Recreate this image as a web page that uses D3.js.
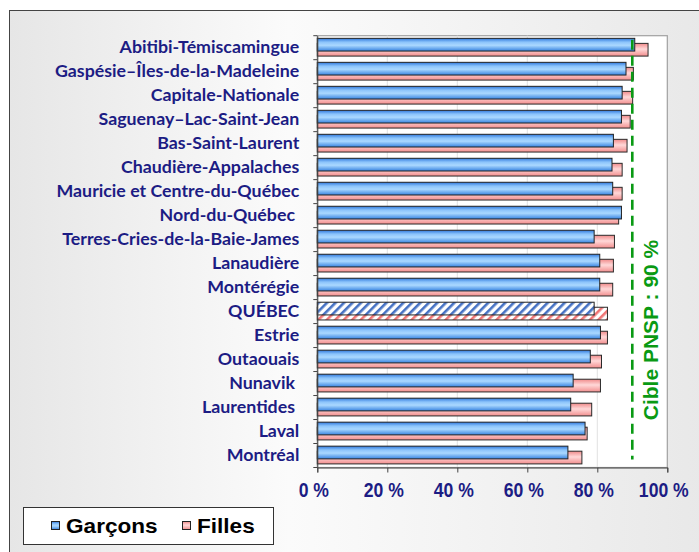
<!DOCTYPE html>
<html>
<head>
<meta charset="utf-8">
<script src="https://cdn.jsdelivr.net/npm/d3@7"></script>
<style>
  html, body { margin: 0; padding: 0; background: #fff; }
  svg { display: block; }
</style>
</head>
<body>
<div id="chart"></div>
<script>
// Régions, du haut vers le bas
const regions = [
    'Abitibi-Témiscamingue', 'Gaspésie–Îles-de-la-Madeleine', 'Capitale-Nationale',
    'Saguenay–Lac-Saint-Jean', 'Bas-Saint-Laurent', 'Chaudière-Appalaches',
    'Mauricie et Centre-du-Québec', 'Nord-du-Québec ', 'Terres-Cries-de-la-Baie-James',
    'Lanaudière', 'Montérégie', 'QUÉBEC', 'Estrie', 'Outaouais', 'Nunavik ',
    'Laurentides ', 'Laval', 'Montréal'
];
const garcons = [90.7, 88.2, 87.1, 86.9, 84.6, 84.2, 84.4, 86.9, 79.1, 80.7, 80.7, 79.1, 80.9, 78.0, 73.1, 72.4, 76.5, 71.6];
const filles  = [94.5, 90.3, 90.1, 89.4, 88.5, 87.1, 87.1, 86.1, 84.9, 84.6, 84.4, 82.9, 82.9, 81.2, 80.9, 78.4, 77.1, 75.6];
const xTicks = [0, 20, 40, 60, 80, 100];
const cible = 90;
const cibleLabel = 'Cible PNSP : 90 %';
const legendItems = ['Garçons', 'Filles'];

const W = 699, H = 552;
const margin = { top: 35.7, right: 31.7, bottom: 84.5, left: 317.3 };
const navy = '#1c1c84';
const green = '#0a9a14';

const svg = d3.select('#chart').append('svg')
    .attr('width', W).attr('height', H);

const defs = svg.append('defs');

// fond gris dégradé
const bg = defs.append('linearGradient').attr('id', 'bg')
    .attr('x1', 0).attr('x2', 1).attr('y1', 0).attr('y2', 0);
bg.append('stop').attr('offset', '0%').attr('stop-color', '#e6e6e6');
bg.append('stop').attr('offset', '40%').attr('stop-color', '#fbfbfb');
bg.append('stop').attr('offset', '100%').attr('stop-color', '#e8e8e8');

function vGrad(id, stops) {
    const g = defs.append('linearGradient').attr('id', id)
        .attr('x1', 0).attr('x2', 0).attr('y1', 0).attr('y2', 1);
    stops.forEach(([o, c]) => g.append('stop').attr('offset', o).attr('stop-color', c));
}
vGrad('gBlue', [['0%', '#2f78dc'], ['30%', '#8cc4fb'], ['55%', '#aad8ff'], ['100%', '#3783e0']]);
vGrad('gPink', [['0%', '#f08a8a'], ['45%', '#ffd8d8'], ['100%', '#f28e8e']]);

function hatch(id, color) {
    const p = defs.append('pattern').attr('id', id)
        .attr('patternUnits', 'userSpaceOnUse')
        .attr('width', 6).attr('height', 6)
        .attr('patternTransform', 'rotate(45)');
    p.append('rect').attr('width', 6).attr('height', 6).attr('fill', '#fff');
    p.append('rect').attr('width', 2.6).attr('height', 6).attr('fill', color);
}
hatch('hBlue', '#4672c4');
hatch('hPink', '#f07474');

// cadre extérieur
svg.append('rect')
    .attr('x', 9.5).attr('y', 10.5).attr('width', W).attr('height', H)
    .attr('fill', 'url(#bg)').attr('stroke', '#444').attr('stroke-width', 1);

const x = d3.scaleLinear().domain([0, 100]).range([margin.left, W - margin.right]);
const y = d3.scaleBand().domain(regions).range([margin.top, H - margin.bottom]).padding(0);
const bw = y.bandwidth();

// zone de tracé
svg.append('rect')
    .attr('x', x(0)).attr('y', margin.top)
    .attr('width', x(100) - x(0)).attr('height', H - margin.bottom - margin.top)
    .attr('fill', '#fff').attr('stroke', '#a0a0a0').attr('stroke-width', 1.2);

svg.append('g').selectAll('line').data(xTicks.slice(1, -1)).join('line')
    .attr('x1', d => x(d)).attr('x2', d => x(d))
    .attr('y1', margin.top).attr('y2', H - margin.bottom)
    .attr('stroke', '#e2e2e2').attr('stroke-width', 1);

// barres filles (derrière), puis garçons
const isQc = d => d === 'QUÉBEC';
svg.append('g').selectAll('rect').data(regions).join('rect')
    .attr('x', x(0))
    .attr('y', d => y(d) + bw * 0.32)
    .attr('width', (d, i) => x(filles[i]) - x(0))
    .attr('height', bw * 0.53)
    .attr('fill', d => isQc(d) ? 'url(#hPink)' : 'url(#gPink)')
    .attr('stroke', '#2a2a2a').attr('stroke-width', 1);

svg.append('g').selectAll('rect').data(regions).join('rect')
    .attr('x', x(0))
    .attr('y', d => y(d) + bw * 0.11)
    .attr('width', (d, i) => x(garcons[i]) - x(0))
    .attr('height', bw * 0.53)
    .attr('fill', d => isQc(d) ? 'url(#hBlue)' : 'url(#gBlue)')
    .attr('stroke', '#222').attr('stroke-width', 1);

// axe Y
const yAxis = svg.append('g')
    .attr('transform', `translate(${x(0)},0)`)
    .call(d3.axisLeft(y).tickSize(0).tickPadding(18));
yAxis.select('.domain').attr('stroke', '#444');
yAxis.selectAll('text')
    .attr('fill', navy)
    .style('font-family', 'Lato, "Open Sans", sans-serif')
    .style('font-weight', 'bold')
    .style('font-size', '17.8px')
    .style('white-space', 'pre');
yAxis.selectAll('.bnd').data(regions.concat(['_end'])).join('line')
    .attr('class', 'bnd')
    .attr('x1', -4).attr('x2', 0)
    .attr('y1', (d, i) => margin.top + i * bw).attr('y2', (d, i) => margin.top + i * bw)
    .attr('stroke', '#444');

// axe X
const xAxis = svg.append('g')
    .attr('transform', `translate(0,${H - margin.bottom})`)
    .call(d3.axisBottom(x).tickValues(xTicks).tickSize(5).tickPadding(10)
        .tickFormat(d => d + ' %'));
xAxis.select('.domain').attr('stroke', '#444');
xAxis.selectAll('line').attr('stroke', '#444');
xAxis.selectAll('text')
    .attr('fill', navy)
    .attr('transform', 'translate(-4,0) scale(0.88,1)')
    .style('font-family', '"Liberation Sans", Arial, sans-serif')
    .style('font-weight', 'bold')
    .style('font-size', '20px');

// cible PNSP
svg.append('line')
    .attr('x1', x(cible)).attr('x2', x(cible))
    .attr('y1', margin.top + 4).attr('y2', H - margin.bottom - 8)
    .attr('stroke', green).attr('stroke-width', 2.6)
    .attr('stroke-dasharray', '10,6');

svg.append('text')
    .attr('transform', `translate(${x(cible) + 26},${330}) rotate(-90)`)
    .attr('text-anchor', 'middle')
    .attr('fill', green)
    .style('font-family', '"Liberation Sans", Arial, sans-serif')
    .style('font-weight', 'bold')
    .style('font-size', '21px')
    .text(cibleLabel);

// légende
const lg = svg.append('g');
lg.append('rect')
    .attr('x', 23.5).attr('y', 507.5).attr('width', 250).attr('height', 37)
    .attr('fill', '#fff').attr('stroke', '#333').attr('stroke-width', 1);
const lgX = [51, 182];
const lgFill = ['url(#gBlue)', 'url(#gPink)'];
legendItems.forEach((t, i) => {
    lg.append('rect')
        .attr('x', lgX[i] + 0.5).attr('y', 521.5).attr('width', 8).attr('height', 8)
        .attr('fill', lgFill[i]).attr('stroke', '#222');
    lg.append('text')
        .attr('transform', `translate(${lgX[i] + 15},533) scale(1.13,1)`)
        .attr('fill', '#000')
        .style('font-family', '"Liberation Sans", Arial, sans-serif')
        .style('font-weight', 'bold')
        .style('font-size', '20px')
        .text(t);
});
</script>
</body>
</html>
